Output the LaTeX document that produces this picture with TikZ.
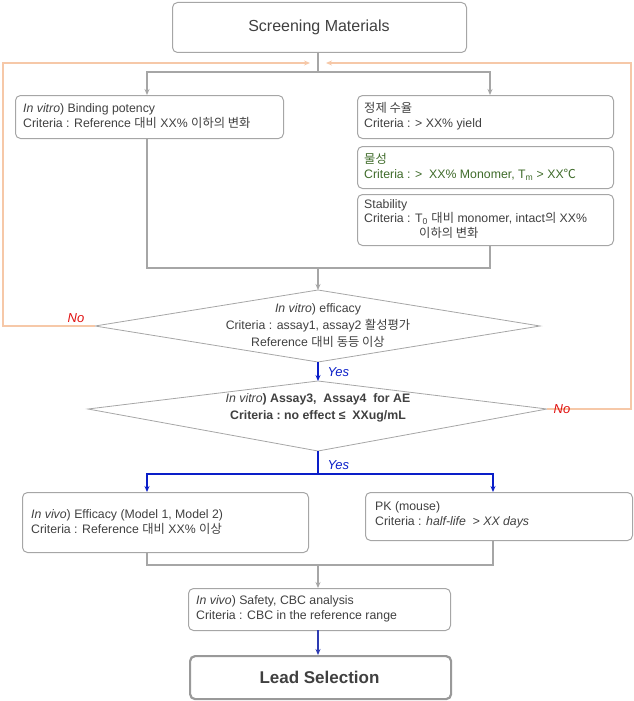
\documentclass[tikz,border=0pt]{standalone}
\usepackage{fontspec}
\setmainfont{Liberation Sans}
\newfontfamily\kr{Noto Sans CJK KR}
\usetikzlibrary{shapes.geometric,arrows.meta}
\definecolor{bx}{HTML}{A6A6A6}
\definecolor{tx}{HTML}{404040}
\definecolor{org}{HTML}{F6C8A8}
\definecolor{blu}{HTML}{0A1EC8}
\definecolor{grn}{HTML}{3F6B2A}
\definecolor{rd}{HTML}{E01010}
\begin{document}
\begin{tikzpicture}[x=1pt,y=-1pt,
  box/.style={draw=bx,line width=1pt,rounded corners=5pt,align=left,anchor=north west,inner sep=0pt,text=tx},
  txt/.style={anchor=west,align=left,text=tx,font=\fontsize{12.3}{14.5}\selectfont,inner sep=0pt},
  gl/.style={draw=bx,line width=1.5pt},
  ga/.style={gl,-{Stealth[length=6pt,width=5pt]}},
  ol/.style={draw=org,line width=1.5pt},
  oa/.style={ol,-{Stealth[length=6pt,width=5pt]}},
  bl/.style={draw=blu,line width=1.5pt},
  ba/.style={bl,-{Stealth[length=6pt,width=5pt]}},
  lab/.style={font=\itshape\fontsize{13}{15}\selectfont}]
\useasboundingbox (0,0) rectangle (634,701);
\node[box,minimum width=294pt,minimum height=50pt] (sm) at (172,2) {};
\node[text=tx,font=\fontsize{16}{19}\selectfont] at (319,27) {Screening Materials};
% boxes
\node[box,minimum width=268pt,minimum height=43pt] (b1) at (15,95) {};
\node[txt] at (23,116) {\textit{In vitro}) Binding potency\\Criteria : Reference {\kr 대비} XX\% {\kr 이하의 변화}};
\node[box,minimum width=256pt,minimum height=43pt] (r1) at (357,95) {};
\node[txt] at (364,116) {{\kr 정제 수율}\\Criteria : > XX\% yield};
\node[box,minimum width=256pt,minimum height=42pt] (r2) at (357,146) {};
\node[txt,text=grn] at (364,167) {{\kr 물성}\\Criteria : >\ \ XX\% Monomer, T\textsubscript{m} > XX{\kr ℃}};
\node[box,minimum width=256pt,minimum height=51pt] (r3) at (357,194) {};
\node[txt] at (364,219) {Stability\\Criteria : T\textsubscript{0} {\kr 대비} monomer, intact{\kr 의} XX\%\\\hspace{55pt}{\kr 이하의 변화}};
% diamonds
\coordinate (d1n) at (318,290); \coordinate (d1s) at (318,362);
\coordinate (d1w) at (95,326); \coordinate (d1e) at (540,326);
\draw[draw=bx,line width=0.8pt] (d1n) -- (d1e) -- (d1s) -- (d1w) -- cycle;
\node[align=center,text=tx,font=\fontsize{12.3}{17}\selectfont] (d1) at (318,326) {\textit{In vitro}) efficacy\\Criteria : assay1, assay2 {\kr 활성평가}\\Reference {\kr 대비 동등 이상}};
\coordinate (d2n) at (318,381); \coordinate (d2s) at (318,451);
\coordinate (d2w) at (88,409); \coordinate (d2e) at (547,409);
\draw[draw=bx,line width=0.8pt] (d2n) -- (d2e) -- (d2s) -- (d2w) -- cycle;
\node[align=center,text=tx,font=\bfseries\fontsize{12.3}{17}\selectfont] (d2) at (318,408) {\textit{\mdseries In vitro}) Assay3,\ \ Assay4\ \ for AE\\Criteria :\ no effect ≤\ \ XXug/mL};
% lower boxes
\node[box,minimum width=286pt,minimum height=60pt] (l1) at (22,492) {};
\node[txt] at (31,522) {\textit{In vivo}) Efficacy (Model 1, Model 2)\\Criteria : Reference {\kr 대비} XX\% {\kr 이상}};
\node[box,minimum width=267pt,minimum height=48pt] (l2) at (365,492) {};
\node[txt] at (375,515) {PK (mouse)\\Criteria : \textit{half-life\ \ > XX days}};
\node[box,minimum width=262pt,minimum height=42pt] (sf) at (188,588) {};
\node[txt] at (196,609) {\textit{In vivo}) Safety, CBC analysis\\Criteria : CBC in the reference range};
\node[box,line width=2.2pt,draw=gray!80,minimum width=261pt,minimum height=43pt] (ls) at (189,655) {};
\node[text=tx,font=\bfseries\fontsize{17}{20}\selectfont] at (319.5,677) {Lead Selection};
% connectors
\coordinate (c0) at (318,72);
\draw[gl] (318,52) -- (c0);
\draw[gl] (147,72) -- (490,72);
\draw[ga] (147,71.25) -- (147,95);
\draw[ga] (490,71.25) -- (490,95);
\draw[gl] (147,138) -- (147,268) -- (490,268) -- (490,245);
\draw[ga] (318,268) -- (d1n);
\draw[ba] (d1s) -- (d2n);
\node[lab,text=blu,anchor=west] at (324,372) {Yes};
\draw[bl] (d2s) -- (318,474);
\draw[bl] (147,474) -- (493,474);
\draw[ba] (147,473.25) -- (147,492);
\draw[ba] (493,473.25) -- (493,492);
\node[lab,text=blu,anchor=west] at (324,465) {Yes};
\draw[gl] (147,552) -- (147,565) -- (493,565) -- (493,540);
\draw[ga] (318,565) -- (318,588);
\draw[draw=blu!70!gray,line width=1.5pt,-{Stealth[length=6pt,width=5pt]}] (318,630) -- (318,655);
% feedback
\draw[oa] (d1w) -- (3,326) -- (3,63) -- (310,63);
\draw[oa] (d2e) -- (631,409) -- (631,63) -- (326,63);
\node[lab,text=rd] at (76,318) {No};
\node[lab,text=rd] at (562,409) {No};
\end{tikzpicture}
\end{document}
